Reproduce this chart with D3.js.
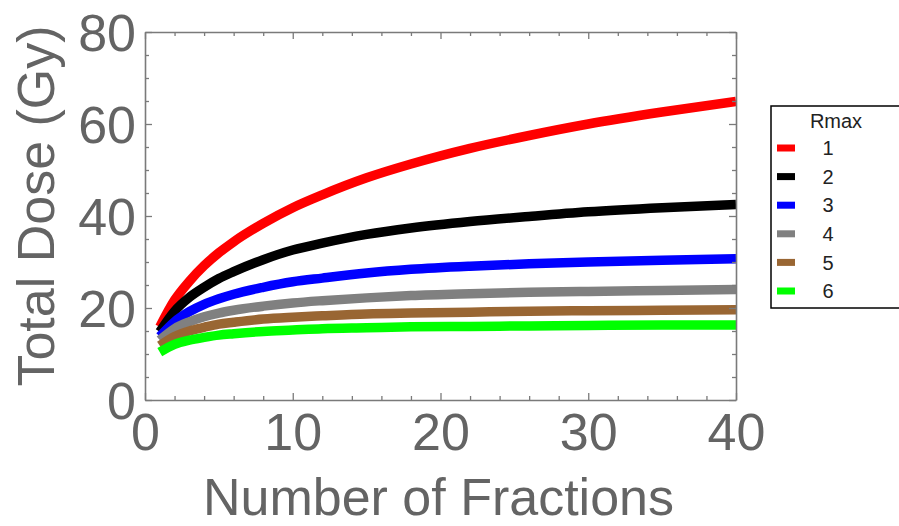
<!DOCTYPE html>
<html>
<head>
<meta charset="utf-8">
<script src="https://cdn.jsdelivr.net/npm/d3@7/dist/d3.min.js"></script>
<style>
  html, body { margin: 0; padding: 0; background: #fff; }
  svg { display: block; }
</style>
</head>
<body>
<svg id="chart" width="899" height="526"></svg>
<script>
// Number of fractions at which each total-dose curve is sampled
const fractions = [1, 2, 3, 4, 5, 6, 8, 10, 12, 15, 18, 22, 26, 30, 35, 40];

// Total dose (Gy) for each Rmax value
const dose1 = [15.9, 21.7, 25.8, 29.2, 32.0, 34.4, 38.4, 41.8, 44.6, 48.3, 51.3, 54.7, 57.5, 60.0, 62.6, 64.9];
const dose2 = [14.8, 19.3, 22.3, 24.5, 26.4, 27.9, 30.5, 32.6, 34.1, 36.0, 37.4, 38.8, 39.9, 40.9, 41.8, 42.5];
const dose3 = [13.8, 17.0, 19.2, 20.8, 22.0, 23.0, 24.5, 25.7, 26.5, 27.6, 28.4, 29.1, 29.6, 30.0, 30.4, 30.7];
const dose4 = [13.0, 15.5, 17.0, 18.1, 18.9, 19.5, 20.4, 21.1, 21.6, 22.2, 22.7, 23.1, 23.4, 23.6, 23.8, 24.0];
const dose5 = [11.8, 13.8, 15.0, 15.8, 16.5, 16.9, 17.6, 18.0, 18.3, 18.7, 18.9, 19.1, 19.3, 19.4, 19.5, 19.6];
const dose6 = [10.4, 12.1, 13.0, 13.6, 14.1, 14.4, 14.9, 15.2, 15.5, 15.7, 15.9, 16.0, 16.1, 16.2, 16.3, 16.3];

const rmaxLabels = ["1", "2", "3", "4", "5", "6"];
const seriesColors = ["#ff0000", "#000000", "#0000ff", "#808080", "#996633", "#00ff00"];
const seriesValues = [dose1, dose2, dose3, dose4, dose5, dose6];

const xMajorTicks = [0, 10, 20, 30, 40];
const yMajorTicks = [0, 20, 40, 60, 80];

const svg = d3.select("#chart");
const plot = { left: 145, right: 736, top: 32, bottom: 400 };

const x = d3.scaleLinear().domain([0, 40]).range([plot.left, plot.right]);
const y = d3.scaleLinear().domain([0, 80]).range([plot.bottom, plot.top]);

const frameColor = "#7a7a7a";
const labelColor = "#646464";
const font = "'Liberation Sans', Arial, sans-serif";

// Curves, clipped to the frame
svg.append("defs").append("clipPath").attr("id", "plotClip")
  .append("rect")
  .attr("x", plot.left).attr("y", plot.top)
  .attr("width", plot.right - plot.left).attr("height", plot.bottom - plot.top);

const line = d3.line()
  .x(d => x(d[0]))
  .y(d => y(d[1]))
  .curve(d3.curveMonotoneX);

const curves = svg.append("g").attr("clip-path", "url(#plotClip)");
seriesValues.forEach((vals, i) => {
  curves.append("path")
    .datum(fractions.map((n, j) => [n, vals[j]]))
    .attr("d", line)
    .attr("fill", "none")
    .attr("stroke", seriesColors[i])
    .attr("stroke-width", 9.5)
    .attr("stroke-linecap", "butt")
    .attr("stroke-linejoin", "round");
});

// Frame axes: ticks point inward on all four sides
const majorLen = 7, minorLen = 4;
const xMinor = d3.range(0, 41, 2).filter(v => v % 10 !== 0);
const yMinor = d3.range(0, 81, 5).filter(v => v % 20 !== 0);

function styleAxis(g) {
  g.selectAll("path.domain").attr("stroke", frameColor).attr("stroke-width", 1.6);
  g.selectAll(".tick line").attr("stroke", frameColor).attr("stroke-width", 1.3);
}

// Bottom
const bottomAxis = svg.append("g").attr("transform", `translate(0,${plot.bottom})`)
  .call(d3.axisBottom(x).tickValues(xMajorTicks).tickSize(-majorLen).tickSizeOuter(0).tickPadding(14).tickFormat(d3.format("d")));
bottomAxis.call(styleAxis);
bottomAxis.selectAll("text")
  .attr("font-family", font).attr("font-size", 52).attr("fill", labelColor)
  .attr("dy", "0.71em").attr("y", 13);
svg.append("g").attr("transform", `translate(0,${plot.bottom})`)
  .call(d3.axisBottom(x).tickValues(xMinor).tickSize(-minorLen).tickSizeOuter(0).tickFormat(""))
  .call(styleAxis).select("path.domain").remove();

// Top
svg.append("g").attr("transform", `translate(0,${plot.top})`)
  .call(d3.axisTop(x).tickValues(xMajorTicks).tickSize(-majorLen).tickSizeOuter(0).tickFormat(""))
  .call(styleAxis);
svg.append("g").attr("transform", `translate(0,${plot.top})`)
  .call(d3.axisTop(x).tickValues(xMinor).tickSize(-minorLen).tickSizeOuter(0).tickFormat(""))
  .call(styleAxis).select("path.domain").remove();

// Left
const leftAxis = svg.append("g").attr("transform", `translate(${plot.left},0)`)
  .call(d3.axisLeft(y).tickValues(yMajorTicks).tickSize(-majorLen).tickSizeOuter(0).tickPadding(10).tickFormat(d3.format("d")));
leftAxis.call(styleAxis);
leftAxis.selectAll("text")
  .attr("font-family", font).attr("font-size", 52).attr("fill", labelColor)
  .attr("x", -9).attr("dy", "0.36em");
svg.append("g").attr("transform", `translate(${plot.left},0)`)
  .call(d3.axisLeft(y).tickValues(yMinor).tickSize(-minorLen).tickSizeOuter(0).tickFormat(""))
  .call(styleAxis).select("path.domain").remove();

// Right
svg.append("g").attr("transform", `translate(${plot.right},0)`)
  .call(d3.axisRight(y).tickValues(yMajorTicks).tickSize(-majorLen).tickSizeOuter(0).tickFormat(""))
  .call(styleAxis);
svg.append("g").attr("transform", `translate(${plot.right},0)`)
  .call(d3.axisRight(y).tickValues(yMinor).tickSize(-minorLen).tickSizeOuter(0).tickFormat(""))
  .call(styleAxis).select("path.domain").remove();

// Axis titles
svg.append("text")
  .attr("x", (plot.left + plot.right) / 2 - 2).attr("y", 515)
  .attr("text-anchor", "middle")
  .attr("font-family", font).attr("font-size", 52).attr("fill", labelColor)
  .text("Number of Fractions");

svg.append("text")
  .attr("transform", `translate(54,206) rotate(-90)`)
  .attr("text-anchor", "middle")
  .attr("font-family", font).attr("font-size", 52).attr("fill", labelColor)
  .text("Total Dose (Gy)");

// Legend
const legend = svg.append("g");
legend.append("rect")
  .attr("x", 771).attr("y", 106).attr("width", 150).attr("height", 202)
  .attr("fill", "#fff").attr("stroke", "#000").attr("stroke-width", 1.5);
legend.append("text")
  .attr("x", 836).attr("y", 128)
  .attr("text-anchor", "middle")
  .attr("font-family", font).attr("font-size", 20).attr("fill", "#222")
  .text("Rmax");

const rowY = d3.scalePoint().domain(rmaxLabels).range([148, 291]);
rmaxLabels.forEach((lab, i) => {
  legend.append("rect")
    .attr("x", 777).attr("y", rowY(lab) - 3.5)
    .attr("width", 18).attr("height", 7)
    .attr("fill", seriesColors[i]);
  legend.append("text")
    .attr("x", 828).attr("y", rowY(lab))
    .attr("dy", "0.36em")
    .attr("text-anchor", "middle")
    .attr("font-family", font).attr("font-size", 20).attr("fill", "#222")
    .text(lab);
});
</script>
</body>
</html>
